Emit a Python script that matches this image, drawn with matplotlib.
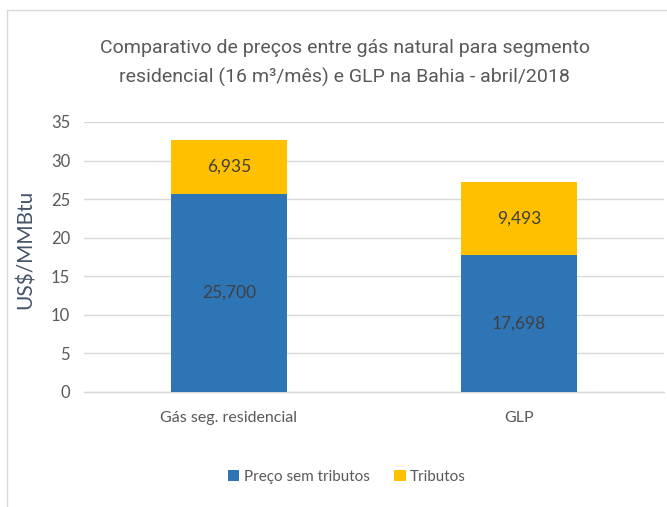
import matplotlib.pyplot as plt
from matplotlib.patches import Rectangle

categorias = ['Gás seg. residencial', 'GLP']
preco_sem_tributos = [25.700, 17.698]
tributos = [6.935, 9.493]
rotulos_preco = ['25,700', '17,698']
rotulos_tributos = ['6,935', '9,493']
yticks = [0, 5, 10, 15, 20, 25, 30, 35]

azul = '#2E75B6'
amarelo = '#FFC000'
cinza = '#595959'
fonte = ['Lato', 'DejaVu Sans']
fonte_titulo = ['Roboto', 'DejaVu Sans']

fig = plt.figure(figsize=(6.67, 5.07), dpi=100)
fig.patches.append(Rectangle((7 / 667, -0.01), 1.0, 1 - 10 / 507 + 0.01,
                             transform=fig.transFigure, fill=False,
                             edgecolor='#D9D9D9', linewidth=1))
ax = fig.add_axes([84 / 667, 1 - 392 / 507, 580 / 667, 270 / 507])

x = range(len(categorias))
b1 = ax.bar(x, preco_sem_tributos, width=0.4, color=azul, label='Preço sem tributos', zorder=3)
b2 = ax.bar(x, tributos, width=0.4, bottom=preco_sem_tributos, color=amarelo,
            label='Tributos', zorder=3)

for i in x:
    ax.text(i, preco_sem_tributos[i] / 2, rotulos_preco[i], ha='center', va='center',
            fontsize=12.5, color='#404040', family=fonte, zorder=4)
    ax.text(i, preco_sem_tributos[i] + tributos[i] / 2, rotulos_tributos[i], ha='center',
            va='center', fontsize=12.5, color='#404040', family=fonte, zorder=4)

ax.set_xlim(-0.5, 1.5)
ax.set_ylim(0, 35)
ax.set_yticks(yticks)
ax.set_xticks(list(x))
ax.set_xticklabels(categorias)
ax.grid(axis='y', color='#D9D9D9', linewidth=1, zorder=0)
ax.axhline(0, color='#D9D9D9', linewidth=1, zorder=2, clip_on=False)
for s in ax.spines.values():
    s.set_visible(False)
ax.tick_params(length=0, colors=cinza, labelsize=12, pad=10)
ax.tick_params(axis='x', labelsize=11.5, pad=14)
for lbl in ax.get_xticklabels() + ax.get_yticklabels():
    lbl.set_family(fonte)
ax.set_ylabel('US$/MMBtu', fontsize=15, color='#44546A', labelpad=8, family=fonte)
ax.yaxis.set_label_coords(-0.083, 0.53)

fig.text(0.517, 1 - 63 / 507, 'Comparativo de preços entre gás natural para segmento\n'
         'residencial (16 m³/mês) e GLP na Bahia - abril/2018',
         ha='center', va='center', fontsize=14, color=cinza, family=fonte_titulo,
         linespacing=1.7)

fig.legend(handles=[b1, b2], loc='center', bbox_to_anchor=(0.52, 1 - 477 / 507), ncol=2,
           frameon=False, prop={'family': fonte, 'size': 11}, labelcolor=cinza,
           handlelength=0.75, handleheight=0.75, handletextpad=0.3, columnspacing=1.6)

fig.savefig('out.png', dpi=100)
